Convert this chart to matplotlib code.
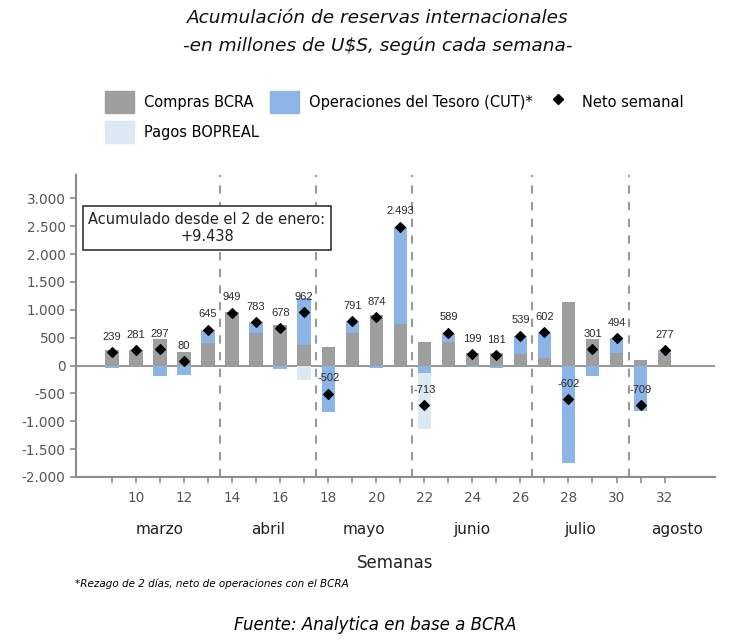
import numpy as np
import matplotlib
matplotlib.use("Agg")
import matplotlib.pyplot as plt
from matplotlib.patches import Patch
from matplotlib.lines import Line2D
from matplotlib.ticker import FuncFormatter

# datos semanales (millones de U$S)
semanas = list(range(9, 33))
compras = [287, 287, 480, 245, 412, 956, 585, 735, 376, 330, 585, 914,
           753, 424, 424, 227, 227, 215, 131, 1147, 484, 227, 102, 227]
tesoro = [-48, -6, -183, -165, 233, -7, 198, -57, 837, -832, 206, -40,
          1740, -131, 165, -28, -46, 324, 471, -1749, -183, 267, -811, 50]
bopreal = [0, 0, 0, 0, 0, 0, 0, 0, -251, 0, 0, 0,
           0, -1006, 0, 0, 0, 0, 0, 0, 0, 0, 0, 0]
neto = [239, 281, 297, 80, 645, 949, 783, 678, 962, -502, 791, 874,
        2493, -713, 589, 199, 181, 539, 602, -602, 301, 494, -709, 277]

meses = ["marzo", "abril", "mayo", "junio", "julio", "agosto"]
mes_desde = [9, 14, 18, 22, 27, 31]
mes_hasta = [13, 17, 21, 26, 30, 34]

c_gris = "#9e9e9e"
c_azul = "#8db4e6"
c_claro = "#dce9f2"
c_eje = "#8c8c8c"


def miles(v, pos=None):
    return f"{int(v):,}".replace(",", ".")


plt.rcParams["font.family"] = ["DejaVu Sans"]

fig = plt.figure(figsize=(7.3, 6.41), dpi=100)
ax = fig.add_axes([76 / 730, 1 - 477 / 641, (715 - 76) / 730, (477 - 175) / 641])

x = np.array(semanas)
compras = np.array(compras)
tesoro = np.array(tesoro)
bopreal = np.array(bopreal)

w = 0.56
ax.bar(x, compras, w, color=c_gris, zorder=2)
base_t = np.where(tesoro >= 0, compras, 0)
ax.bar(x, tesoro, w, bottom=base_t, color=c_azul, zorder=2)
base_b = np.minimum(tesoro, 0)
ax.bar(x, bopreal, w, bottom=base_b, color=c_claro, zorder=2)
ax.scatter(x, neto, marker="D", s=24, color="black", zorder=4)

for xi, v in zip(x, neto):
    ax.annotate(miles(v), (xi, v), xytext=(0, 11), textcoords="offset points",
                ha="center", va="center", fontsize=8, color="#2a2a2a",
                family="Liberation Sans", zorder=5)

ax.axhline(0, color=c_eje, lw=1.3, zorder=1)

for d in mes_desde[1:]:
    ax.axvline(d - 0.5, color="#9a9a9a", lw=1.5, ls=(0, (4, 4)), zorder=1)

for m, a, b in zip(meses, mes_desde, mes_hasta):
    ax.text((a + b) / 2, -0.175, m, transform=ax.get_xaxis_transform(),
            ha="center", va="center", fontsize=11, color="#222222")

ax.set_xlim(7.5, 34.1)
ax.set_ylim(-2000, 3420)
ax.set_yticks(range(-2000, 3001, 500))
ax.yaxis.set_major_formatter(FuncFormatter(miles))
ax.set_xticks(semanas)
ax.set_xticklabels([str(s) if s % 2 == 0 else "" for s in semanas])
ax.tick_params(axis="both", colors=c_eje, labelcolor="#555555", labelsize=9.8,
               length=4, width=1.2)
ax.tick_params(axis="x", pad=6)
for s in ["top", "right"]:
    ax.spines[s].set_visible(False)
for s in ["left", "bottom"]:
    ax.spines[s].set_color(c_eje)
    ax.spines[s].set_linewidth(1.5)

ax.text(0.205, 0.824, "Acumulado desde el 2 de enero:\n+9.438",
        transform=ax.transAxes, ha="center", va="center", fontsize=10.5,
        color="#222222", linespacing=1.2,
        bbox=dict(boxstyle="square,pad=0.38", fc="white", ec="#333333", lw=1.2),
        zorder=6)

handles = [Patch(color=c_gris), Patch(color=c_claro), Patch(color=c_azul),
           Line2D([], [], marker="D", ls="none", color="black", markersize=5)]
labels = ["Compras BCRA", "Pagos BOPREAL", "Operaciones del Tesoro (CUT)*",
          "Neto semanal"]
fig.legend(handles, labels, ncol=3, loc="upper left",
           bbox_to_anchor=(92 / 730, 1 - 78 / 641), frameon=False,
           fontsize=10.5, handlelength=2.0, handleheight=1.9,
           handletextpad=0.7, columnspacing=0.7, labelspacing=0.6)

fig.text(0.517, 1 - 18 / 641, "Acumulación de reservas internacionales",
         ha="center", va="center", style="italic", fontsize=13.3,
         color="#111111")
fig.text(0.517, 1 - 46 / 641, "-en millones de U$S, según cada semana-",
         ha="center", va="center", style="italic", fontsize=13.3,
         color="#111111")

fig.text(395 / 730, 1 - 563 / 641, "Semanas", ha="center", va="center",
         fontsize=12, color="#222222")
fig.text(75 / 730, 1 - 584 / 641,
         "*Rezago de 2 días, neto de operaciones con el BCRA",
         ha="left", va="center", style="italic", fontsize=7.5)
fig.text(375 / 730, 1 - 625 / 641, "Fuente: Analytica en base a BCRA",
         ha="center", va="center", style="italic", fontsize=12)

fig.savefig("out.png", dpi=100)
